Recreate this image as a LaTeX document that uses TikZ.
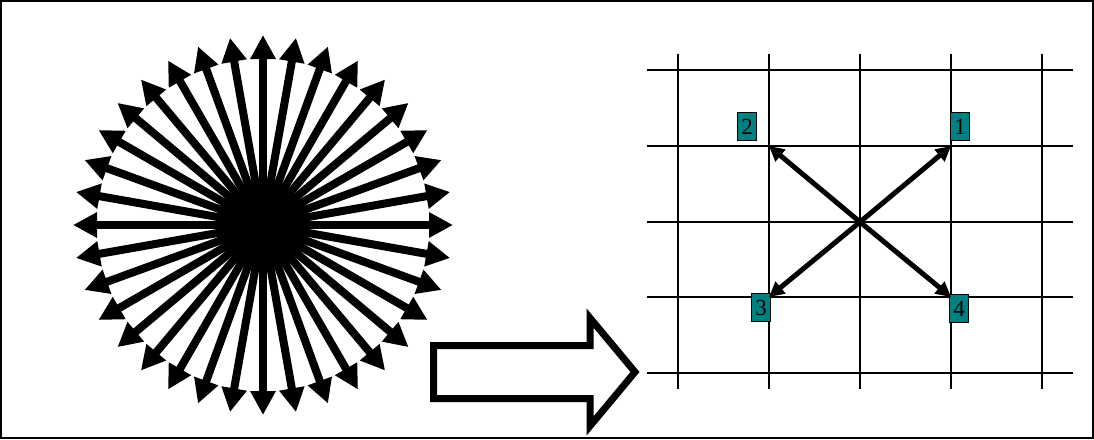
\documentclass[tikz,border=0pt]{standalone}
\usepackage{fontspec}
\setmainfont{Liberation Serif}
\usetikzlibrary{arrows.meta}
\definecolor{tealbox}{RGB}{0,128,128}
\begin{document}
\begin{tikzpicture}[x=1pt,y=-1pt,
  gridline/.style={line width=2pt},
  ray/.style={line width=8pt,-{Triangle[length=24pt,width=24pt]}},
  xarrow/.style={line width=5pt,-{Triangle[length=15pt,width=15pt]}},
  numbox/.style={draw=black,line width=1.2pt,fill=tealbox,inner xsep=4pt,inner ysep=0pt,minimum height=28pt,font=\fontsize{23}{23}\selectfont},
  bigarrow/.style={draw=black,line width=7pt,fill=white,line join=miter}]
\useasboundingbox (0,0) rectangle (1094,439);
\draw[line width=1.5pt] (1,1) rectangle (1093,438);
% starburst
\coordinate (s) at (263,225);
\foreach \a in {0,10,...,350} \draw[ray] (s) -- ++(\a:190);
% big hollow arrow
\draw[bigarrow] (433.5,345.5) -- (590,345.5) -- (590,318) -- (635,372) -- (590,426) -- (590,398.5) -- (433.5,398.5) -- cycle;
% grid
\foreach \x in {678,769,860,951,1042} \draw[gridline] (\x,54) -- (\x,389);
\foreach \y in {70,146,222,297,373} \draw[gridline] (647,\y) -- (1073,\y);
\coordinate (c) at (860,222);
\coordinate (g1) at (951,146);
\coordinate (g2) at (769,146);
\coordinate (g3) at (769,297);
\coordinate (g4) at (951,297);
\node[numbox] (n1) at (960,126.5) {1};
\node[numbox] (n2) at (747,126.5) {2};
\node[numbox] (n3) at (761,307.5) {3};
\node[numbox] (n4) at (959,308.5) {4};
\draw[xarrow] (c) -- (g1);
\draw[xarrow] (c) -- (g2);
\draw[xarrow] (c) -- (g3);
\draw[xarrow] (c) -- (g4);
\end{tikzpicture}
\end{document}
